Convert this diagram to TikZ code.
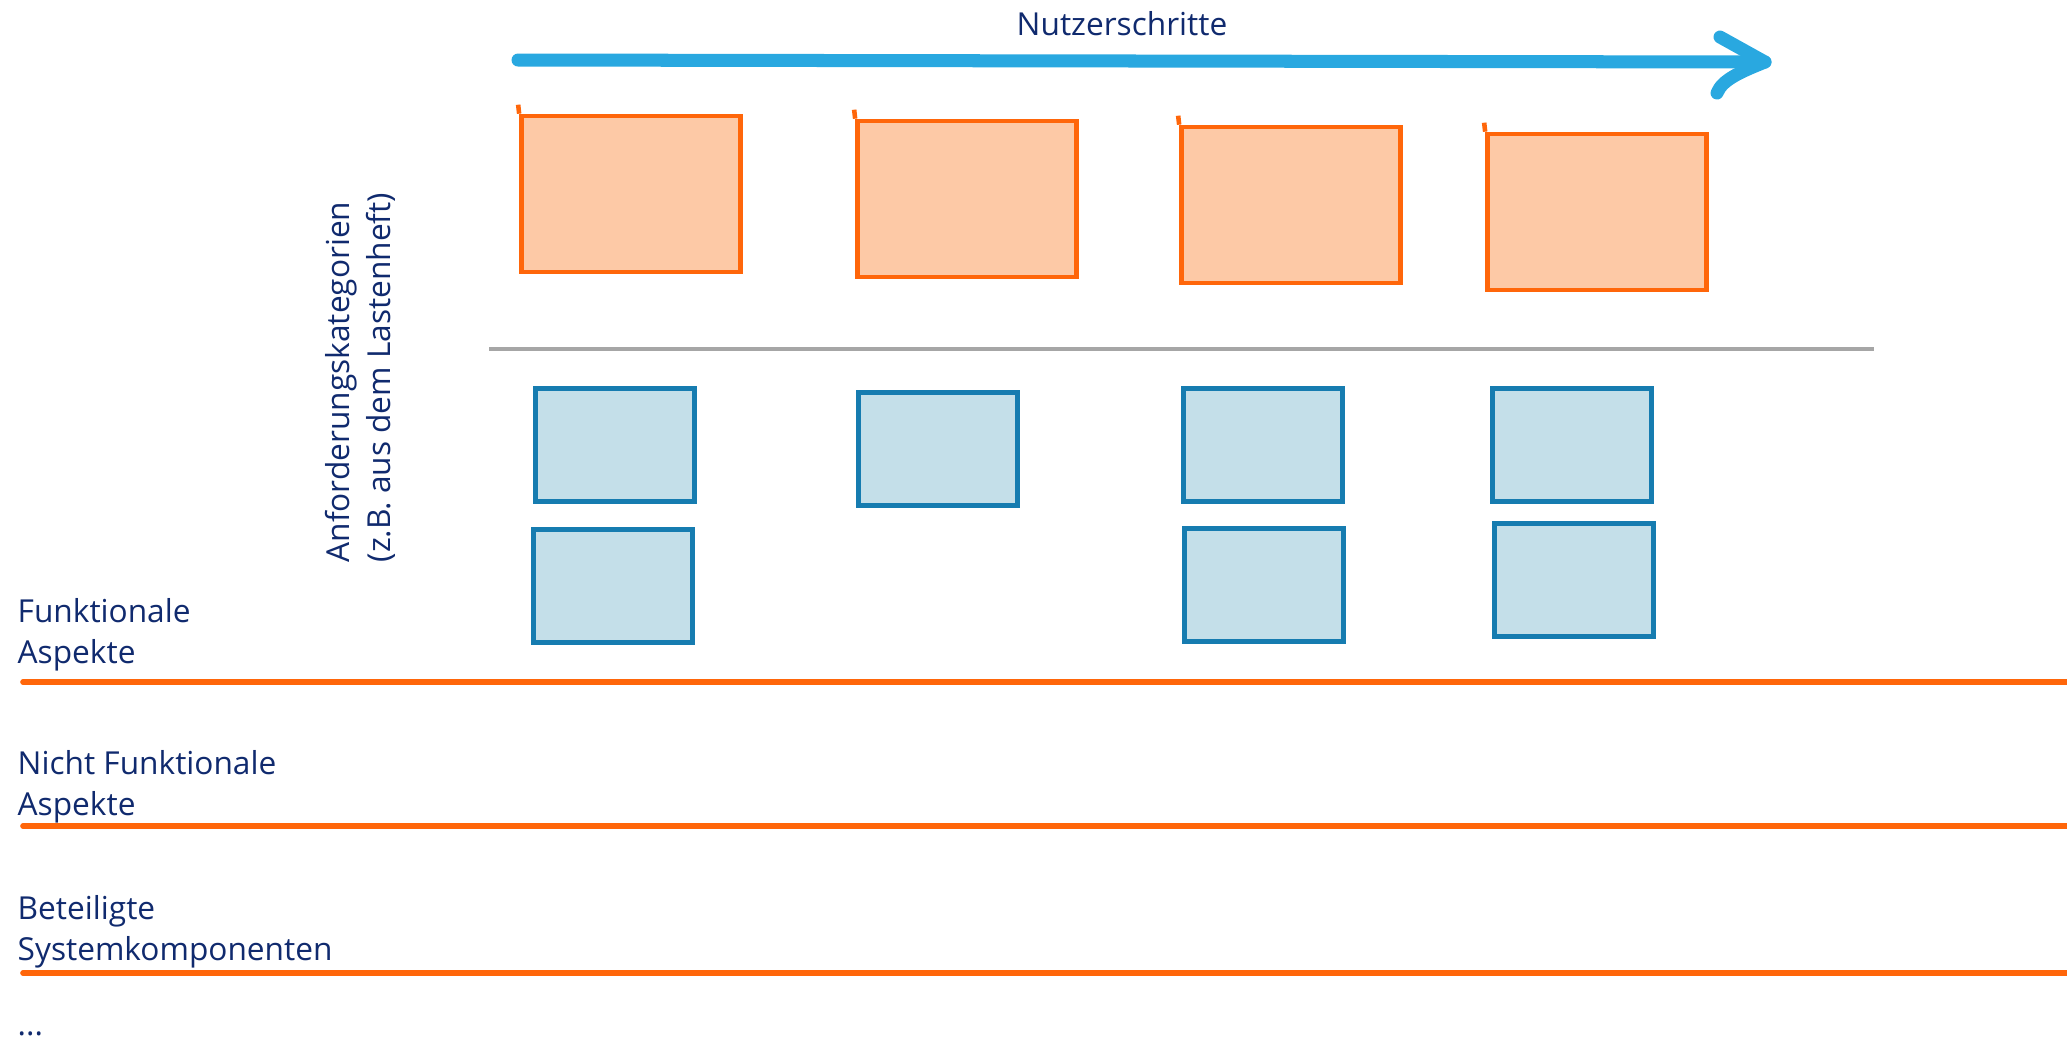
\documentclass[tikz,border=0pt]{standalone}
\usepackage{fontspec}
\setmainfont{Open Sans}
\definecolor{navy}{RGB}{16,42,110}
\definecolor{stickorange}{RGB}{255,102,10}
\definecolor{stickfill}{RGB}{253,201,166}
\definecolor{cardblue}{RGB}{22,124,176}
\definecolor{cardfill}{RGB}{196,223,233}
\definecolor{arrowblue}{RGB}{41,168,224}
\tikzset{
  ostick/.style={draw=stickorange, fill=stickfill, line width=1.3pt,
    minimum width=2.19cm, minimum height=1.56cm, inner sep=0pt},
  bcard/.style={draw=cardblue, fill=cardfill, line width=1.3pt,
    minimum width=1.59cm, minimum height=1.13cm, inner sep=0pt},
  label/.style={text=navy, font=\fontsize{9}{11.4}\selectfont, inner sep=0pt, align=left},
  rowline/.style={draw=stickorange, line width=1.6pt, line cap=round}
}
\begin{document}
\begin{tikzpicture}[x=0.01cm, y=-0.01cm]
  \useasboundingbox (0,0) rectangle (2067,1038);

  % Nutzerschritte
  \coordinate (pL) at (518,60);
  \coordinate (pR) at (1765,62);
  \draw[arrowblue, line width=3.7pt, line cap=round, line join=round] (pL) -- (pR);
  \draw[arrowblue, line width=3.7pt, line cap=round, line join=round]
    (1720,37) -- (pR) .. controls (1740,72) and (1722,80) .. (1717,93);
  \node[label, anchor=base] (steps) at (1122,35) {Nutzerschritte};

  % Anforderungskategorien
  \node[label, rotate=90, anchor=base west] (cat) at (390,563)
    {Anforderungskategorien\\(z.B. aus dem Lastenheft)};

  % Haftnotizen
  \node[ostick] (o1) at (631,194) {};
  \node[ostick] (o2) at (967,199) {};
  \node[ostick] (o3) at (1291,205) {};
  \node[ostick] (o4) at (1597,212) {};
  \foreach \n in {o1,o2,o3,o4}
    \draw[stickorange, line width=1.3pt] (\n.north west) -- ++(-1,-9);

  % Trennlinie
  \draw[gray!70, line width=0.9pt] (489,349) -- (1874,349);

  % Karten
  \node[bcard] (b1) at (615,445) {};
  \node[bcard] (b2) at (938,449) {};
  \node[bcard] (b3) at (1263,445) {};
  \node[bcard] (b4) at (1572,445) {};
  \node[bcard] (b5) at (613,586) {};
  \node[bcard] (b6) at (1264,585) {};
  \node[bcard] (b7) at (1574,580) {};

  % Zeilen
  \node[label, anchor=base west] (fa) at (17,663) {Funktionale\\Aspekte};
  \draw[rowline] (23,682) -- (2067,682);
  \node[label, anchor=base west] (nfa) at (17,815) {Nicht Funktionale\\Aspekte};
  \draw[rowline] (23,826) -- (2067,826);
  \node[label, anchor=base west] (sys) at (17,960) {Beteiligte\\Systemkomponenten};
  \draw[rowline] (23,973) -- (2067,973);
  \node[label, anchor=base west] (more) at (17,1035) {...};
\end{tikzpicture}
\end{document}
